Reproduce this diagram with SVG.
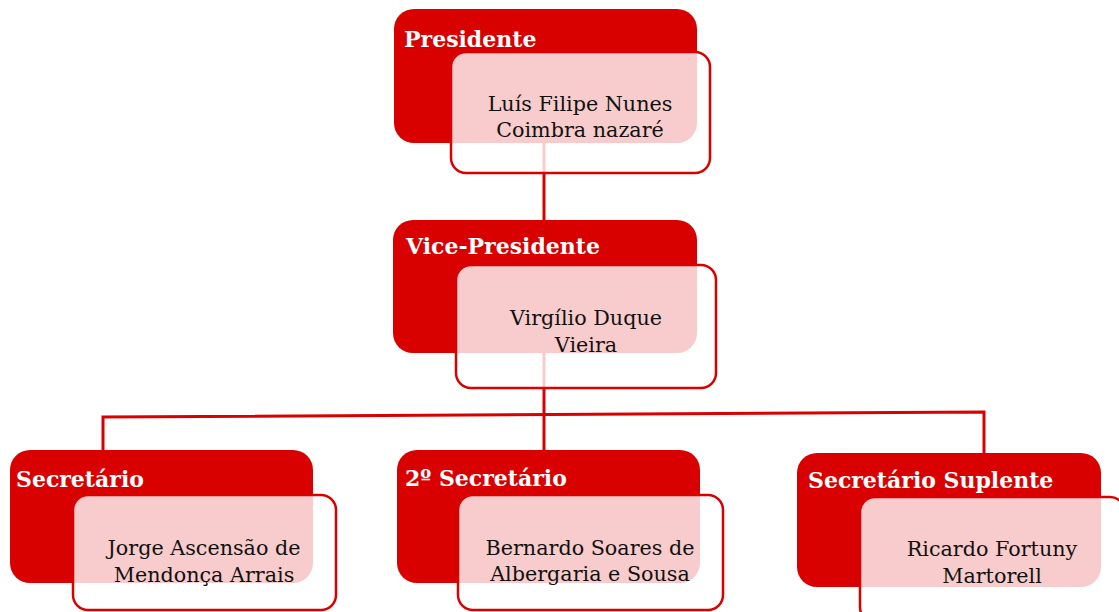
<svg xmlns="http://www.w3.org/2000/svg" width="1119" height="612" viewBox="0 0 1119 612">
<style>
.outer{fill:#d90000;}
.inner{fill:#ffffff;fill-opacity:0.8;stroke:#d90000;stroke-width:2.5;}
.title{font-family:"DejaVu Serif","Liberation Serif",serif;font-weight:bold;font-size:22px;fill:#ffffff;}
.name{font-family:"DejaVu Serif","Liberation Serif",serif;font-size:20.7px;fill:#111111;text-anchor:middle;}
.conn{fill:none;stroke:#d90000;stroke-width:3;}
</style>
<rect width="1119" height="612" fill="#ffffff"/>
<g id="connectors">
<line class="conn" x1="544" y1="140" x2="544" y2="222"/>
<line class="conn" x1="544" y1="350" x2="544" y2="452"/>
<polyline class="conn" points="103,450 103,417 984,412 984,455"/>
</g>
<g id="presidente">
<rect class="outer" x="394" y="9" width="303" height="134" rx="20"/>
<rect class="inner" x="451" y="52" width="259" height="121" rx="15"/>
<text class="title" x="404" y="47">Presidente</text>
<text class="name" x="580" y="111">Luís Filipe Nunes</text>
<text class="name" x="580" y="137">Coimbra nazaré</text>
</g>
<g id="vice-presidente">
<rect class="outer" x="393" y="220" width="304" height="133" rx="20"/>
<rect class="inner" x="456" y="265" width="260" height="123" rx="15"/>
<text class="title" x="406" y="254">Vice-Presidente</text>
<text class="name" x="586" y="325">Virgílio Duque</text>
<text class="name" x="586" y="352">Vieira</text>
</g>
<g id="secretario">
<rect class="outer" x="10" y="450" width="303" height="133" rx="20"/>
<rect class="inner" x="73" y="495" width="263" height="115" rx="15"/>
<text class="title" x="16" y="487">Secretário</text>
<text class="name" x="204" y="555">Jorge Ascensão de</text>
<text class="name" x="204" y="582">Mendonça Arrais</text>
</g>
<g id="segundo-secretario">
<rect class="outer" x="397" y="450" width="303" height="133" rx="20"/>
<rect class="inner" x="458" y="495" width="265" height="115" rx="15"/>
<text class="title" x="405" y="486">2º Secretário</text>
<text class="name" x="590" y="555">Bernardo Soares de</text>
<text class="name" x="590" y="581">Albergaria e Sousa</text>
</g>
<g id="secretario-suplente">
<rect class="outer" x="797" y="453" width="304" height="134" rx="20"/>
<rect class="inner" x="860" y="497" width="265" height="125" rx="15"/>
<text class="title" x="808" y="488">Secretário Suplente</text>
<text class="name" x="992" y="556">Ricardo Fortuny</text>
<text class="name" x="992" y="583">Martorell</text>
</g>
</svg>
